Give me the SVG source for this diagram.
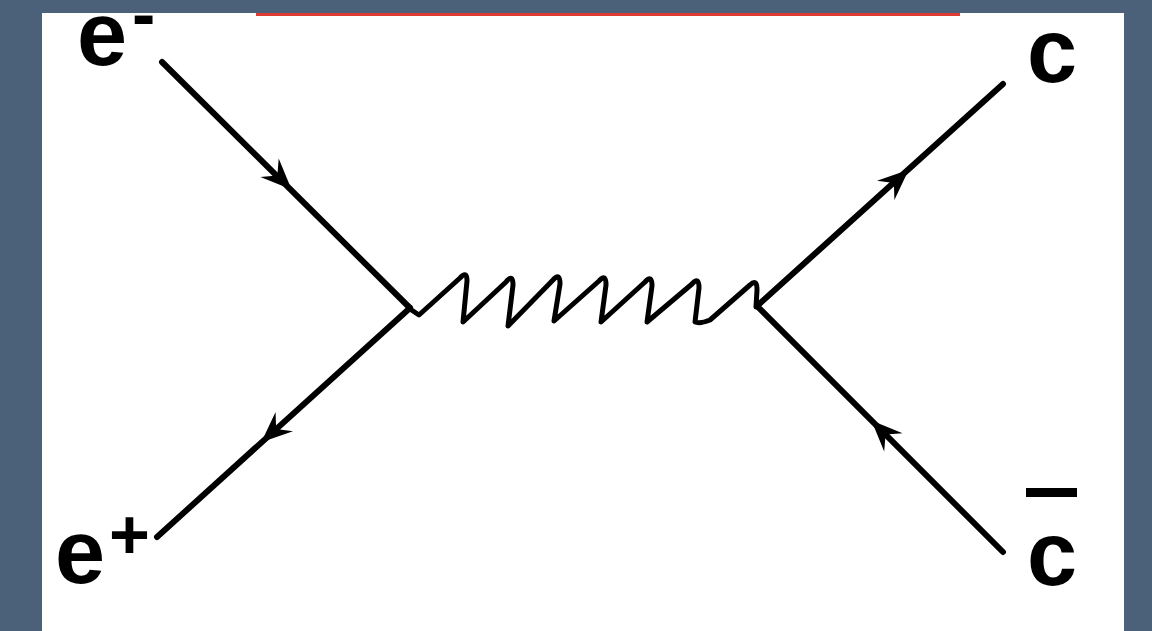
<svg xmlns="http://www.w3.org/2000/svg" width="1152" height="631" viewBox="0 0 1152 631">
<style>
.line{fill:none;stroke:#000;stroke-width:6;stroke-linecap:round;stroke-linejoin:round}
.wave{fill:none;stroke:#000;stroke-width:5;stroke-linecap:round;stroke-linejoin:round}
.lbl{font-family:"Liberation Sans",Arial,sans-serif;font-weight:bold;fill:#000}
</style>
<defs>
<path id="arrow" d="M5,0 L-26,-13 L-15,0 L-26,13 Z" fill="#000"/>
</defs>
<rect x="0" y="0" width="1152" height="631" fill="#4b6079"/>
<rect x="42" y="13" width="1082" height="618" fill="#ffffff"/>
<rect x="256" y="13" width="704" height="3" fill="#de3b35"/>
<g id="connectors">
<line class="line" x1="162" y1="62" x2="410" y2="308"/>
<line class="line" x1="410" y1="308" x2="157" y2="537"/>
<line class="line" x1="757" y1="306" x2="1003" y2="84"/>
<line class="line" x1="757" y1="306" x2="1003" y2="552"/>
<path class="wave" d="M410,309 L419,315 L460,278 Q467,270 467,281 L463,322 L506,282 Q513,273 513,285 L508,326 L553,280 Q560,272 560,284 L554,321 L599,281 Q606,273 606,285 L601,322 L645,282 Q652,274 652,286 L647,322 L692,284 Q699,276 699,288 L695,322 Q700,324 710,320 L750,285 Q757,278 757,290 L756,307"/>
<use href="#arrow" transform="translate(288,186) rotate(44.8)"/>
<use href="#arrow" transform="translate(265,439) rotate(137.85)"/>
<use href="#arrow" transform="translate(905,173) rotate(-42.07)"/>
<use href="#arrow" transform="translate(875,424) rotate(-135)"/>
</g>
<g id="electron">
<text class="lbl"><tspan x="77" y="65" font-size="90">e</tspan><tspan x="132" y="38" font-size="70">-</tspan></text>
</g>
<g id="positron">
<text class="lbl"><tspan x="55" y="583" font-size="90">e</tspan><tspan x="109" y="559" font-size="70">+</tspan></text>
</g>
<g id="charm">
<text class="lbl" x="1027" y="82" font-size="90">c</text>
</g>
<g id="anticharm">
<rect x="1026" y="488" width="51" height="9" fill="#000"/>
<text class="lbl" x="1027" y="585" font-size="90">c</text>
</g>
</svg>
